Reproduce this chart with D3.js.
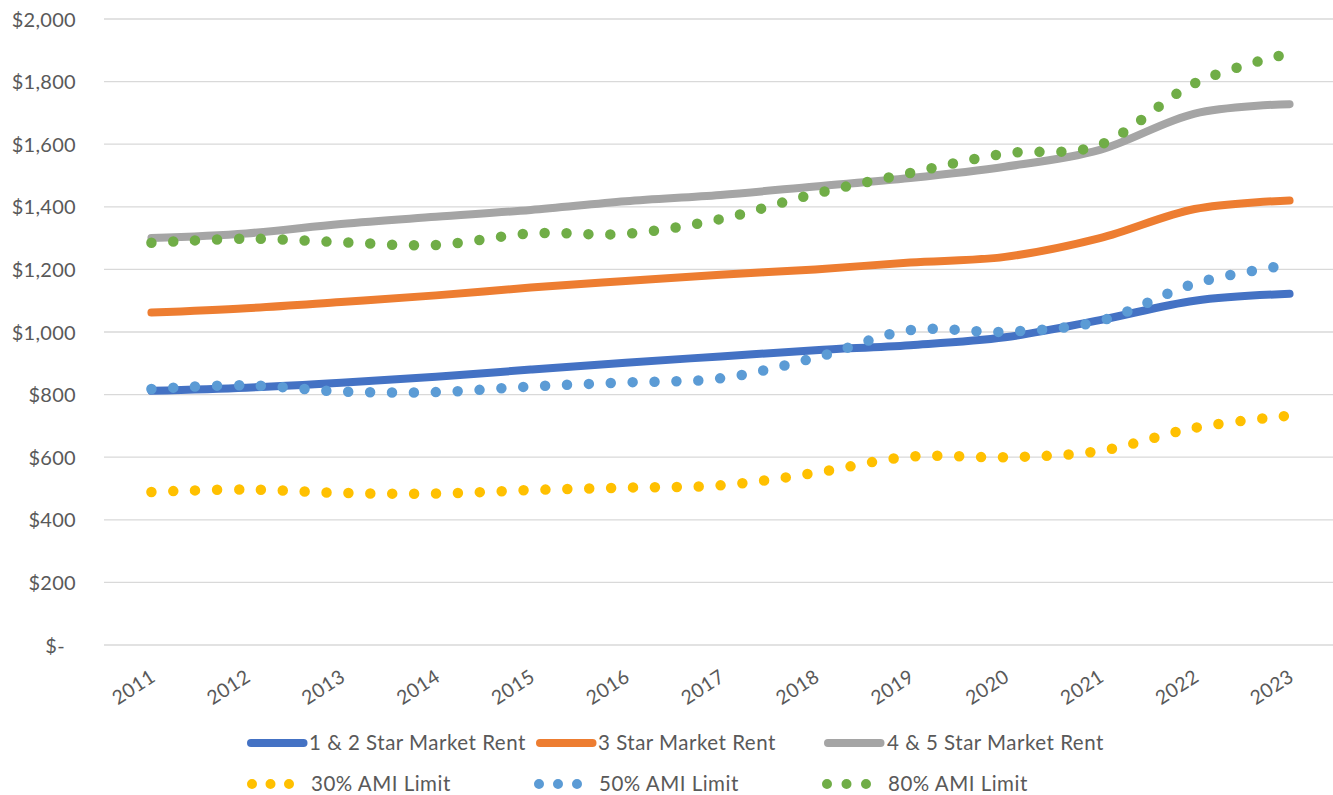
<!DOCTYPE html>
<html>
<head>
<meta charset="utf-8">
<script src="https://cdn.jsdelivr.net/npm/d3@7"></script>
<style>
  html, body { margin: 0; padding: 0; background: #fff; }
  svg { display: block; }
  text { font-family: Lato, "Open Sans", sans-serif; fill: #595959; }
</style>
</head>
<body>
<svg id="chart" width="1333" height="795"></svg>
<script>
const years = ["2011","2012","2013","2014","2015","2016","2017","2018","2019","2020","2021","2022","2023"];
const rent12 = [812, 822, 838, 857, 880, 902, 922, 942, 958, 983, 1038, 1100, 1122];
const rent3  = [1062, 1076, 1096, 1117, 1142, 1163, 1183, 1200, 1222, 1240, 1300, 1393, 1420];
const rent45 = [1300, 1315, 1345, 1368, 1390, 1418, 1438, 1465, 1492, 1528, 1582, 1698, 1728];
const ami30  = [489, 497, 486, 484, 495, 503, 510, 550, 602, 600, 620, 694, 733];
const ami50  = [818, 830, 810, 808, 826, 839, 852, 918, 1006, 1001, 1035, 1155, 1215];
const ami80  = [1285, 1298, 1287, 1278, 1315, 1314, 1361, 1442, 1508, 1570, 1598, 1795, 1890];
const yTicks = [0, 200, 400, 600, 800, 1000, 1200, 1400, 1600, 1800, 2000];
const yTickLabels = ["$-", "$200", "$400", "$600", "$800", "$1,000", "$1,200", "$1,400", "$1,600", "$1,800", "$2,000"];

const seriesNames = ["1 & 2 Star Market Rent", "3 Star Market Rent", "4 & 5 Star Market Rent",
                     "30% AMI Limit", "50% AMI Limit", "80% AMI Limit"];
const seriesValues = [rent12, rent3, rent45, ami30, ami50, ami80];
const seriesColors = ["#4472C4", "#ED7D31", "#A5A5A5", "#FFC000", "#5B9BD5", "#70AD47"];
const seriesDotted = [false, false, false, true, true, true];

const svg = d3.select("#chart");
const plot = { left: 104, right: 1337, top: 19, bottom: 645 };

const x = d3.scalePoint().domain(years).range([plot.left, plot.right]).padding(0.5);
const y = d3.scaleLinear().domain([0, 2000]).range([plot.bottom, plot.top]);

// gridlines
svg.append("g").selectAll("line").data(yTicks).join("line")
  .attr("x1", plot.left).attr("x2", plot.right)
  .attr("y1", d => y(d)).attr("y2", d => y(d))
  .attr("stroke", "#D9D9D9").attr("stroke-width", 1.3);

// y axis labels
const yAxis = d3.axisLeft(y).tickValues(yTicks).tickFormat((d, i) => yTickLabels[i]).tickSize(0).tickPadding(0);
const yg = svg.append("g").attr("transform", "translate(76,0)").call(yAxis);
yg.select(".domain").remove();
yg.selectAll("text")
  .attr("font-family", "Lato, 'Open Sans', sans-serif")
  .attr("font-size", 20).attr("fill", "#595959")
  .attr("letter-spacing", 0.3)
  .attr("dy", "0.35em")
  .attr("dx", (d, i) => i === 0 ? -11 : 0);

// x axis labels
const xAxis = d3.axisBottom(x).tickSize(0).tickPadding(0);
const xg = svg.append("g").attr("transform", `translate(0,${plot.bottom})`).call(xAxis);
xg.select(".domain").remove();
xg.selectAll("text")
  .attr("font-family", "Lato, 'Open Sans', sans-serif")
  .attr("font-size", 19.5).attr("fill", "#595959")
  .attr("letter-spacing", 0.4)
  .attr("text-anchor", "end")
  .attr("dy", 0)
  .attr("y", 0)
  .attr("transform", "translate(5,35) rotate(-33)");

// lines
const line = d3.line()
  .x((d, i) => x(years[i]))
  .y(d => y(d))
  .curve(d3.curveCardinal.tension(0));

seriesValues.forEach((vals, k) => {
  const p = svg.append("path")
    .attr("d", line(vals))
    .attr("fill", "none")
    .attr("stroke", seriesColors[k])
    .attr("stroke-linecap", "round")
    .attr("stroke-linejoin", "round");
  if (seriesDotted[k]) {
    p.attr("stroke-width", 10.5).attr("stroke-dasharray", "0 21.9");
  } else {
    p.attr("stroke-width", 8);
  }
});

// legend
const legendItems = [
  { k: 0, x0: 251, x1: 303, tx: 309, ty: 743 },
  { k: 1, x0: 540, x1: 592, tx: 598, ty: 743 },
  { k: 2, x0: 828, x1: 880, tx: 887, ty: 743 },
  { k: 3, x0: 252, x1: 289, tx: 311, ty: 784 },
  { k: 4, x0: 539, x1: 577, tx: 599, ty: 784 },
  { k: 5, x0: 827, x1: 866, tx: 888, ty: 784 }
];
const lg = svg.append("g");
legendItems.forEach(it => {
  const l = lg.append("line")
    .attr("x1", it.x0).attr("x2", it.x1 + 0.5)
    .attr("y1", it.ty).attr("y2", it.ty)
    .attr("stroke", seriesColors[it.k])
    .attr("stroke-linecap", "round");
  if (seriesDotted[it.k]) {
    l.attr("stroke-width", 10).attr("stroke-dasharray", `0 ${(it.x1 - it.x0) / 2}`);
  } else {
    l.attr("stroke-width", 8);
  }
  lg.append("text")
    .attr("x", it.tx).attr("y", it.ty)
    .attr("dy", "0.35em")
    .attr("font-size", 20.5)
    .attr("letter-spacing", 0.5)
    .text(seriesNames[it.k]);
});
</script>
</body>
</html>
